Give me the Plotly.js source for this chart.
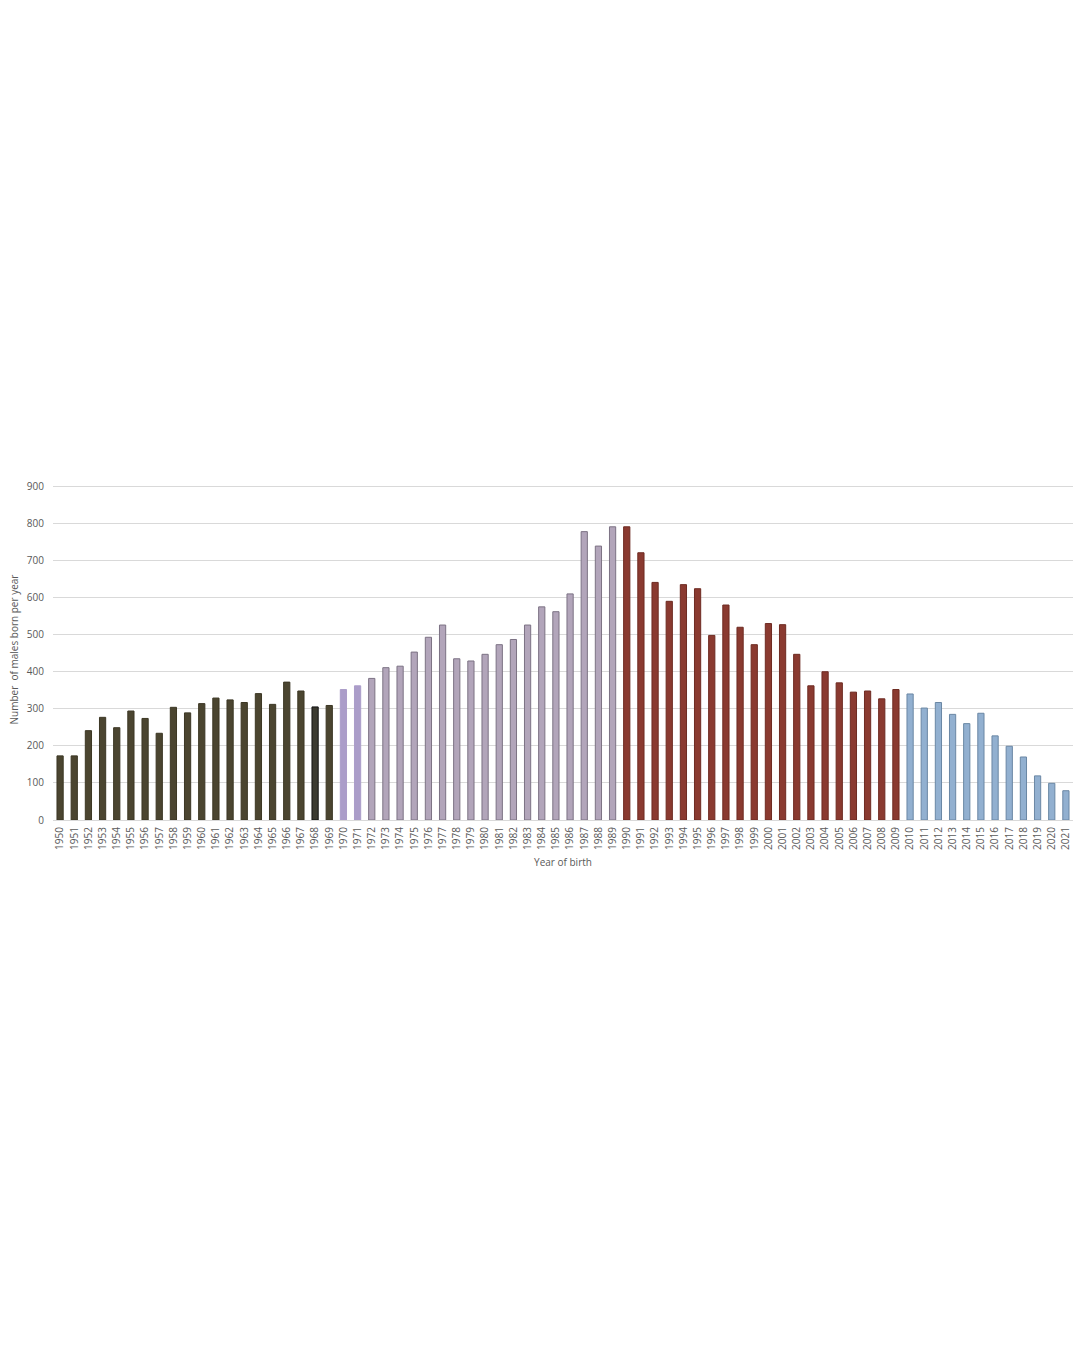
<!DOCTYPE html>
<html>
<head>
<meta charset="utf-8">
<script src="https://cdn.plot.ly/plotly-3.0.1.min.js"></script>
<style>
  html, body { margin: 0; padding: 0; background: #ffffff; }
  #chart { width: 1080px; height: 1350px; }
</style>
</head>
<body>
<div id="chart"></div>
<script>
const years = [
  1950,1951,1952,1953,1954,1955,1956,1957,1958,1959,
  1960,1961,1962,1963,1964,1965,1966,1967,1968,1969,
  1970,1971,1972,1973,1974,1975,1976,1977,1978,1979,
  1980,1981,1982,1983,1984,1985,1986,1987,1988,1989,
  1990,1991,1992,1993,1994,1995,1996,1997,1998,1999,
  2000,2001,2002,2003,2004,2005,2006,2007,2008,2009,
  2010,2011,2012,2013,2014,2015,2016,2017,2018,2019,
  2020,2021
];
const malesBorn = [
  173,173,241,277,249,294,274,234,304,289,
  314,329,324,317,341,312,372,348,305,309,
  352,362,382,411,415,453,493,526,435,429,
  447,473,487,526,575,562,610,778,739,791,
  791,721,641,590,635,624,498,580,520,473,
  530,527,447,362,400,370,345,348,327,352,
  340,302,317,285,260,288,227,199,170,119,
  99,79
];
const yTicks = [0,100,200,300,400,500,600,700,800,900];

function fillFor(y) {
  if (y === 1968) return '#3b3a30';
  if (y < 1970) return '#4b4530';
  if (y < 1972) return '#ab9dc9';
  if (y < 1990) return '#b2a5ba';
  if (y < 2010) return '#8a3a30';
  return '#92b0d0';
}
function lineFor(y) {
  if (y === 1968) return '#111111';
  if (y < 1970) return '#3c3724';
  if (y < 1972) return '#ab9dc9';
  if (y < 1990) return '#7c7284';
  if (y < 2010) return '#6e2b22';
  return '#6a87a4';
}

const labels = years.map(String);

const trace = {
  type: 'bar',
  x: labels,
  y: malesBorn,
  marker: {
    color: years.map(fillFor),
    line: { color: years.map(lineFor), width: 1 }
  },
  hoverinfo: 'x+y'
};

const layout = {
  width: 1080,
  height: 1350,
  paper_bgcolor: '#ffffff',
  plot_bgcolor: '#ffffff',
  margin: { l: 53, r: 7, t: 479, b: 530 },
  bargap: 0.56,
  showlegend: false,
  font: { family: 'Open Sans, sans-serif', color: '#595959', size: 10 },
  xaxis: {
    type: 'category',
    tickangle: -90,
    tickfont: { size: 10, color: '#595959' },
    showgrid: false,
    showline: true,
    linecolor: '#d9d9d9',
    linewidth: 1,
    ticks: '',
    ticklen: 0,
    ticklabelstandoff: 2,
    title: { text: 'Year of birth', font: { size: 10, color: '#595959' }, standoff: 10 }
  },
  yaxis: {
    range: [0, 920],
    tickvals: yTicks,
    ticktext: yTicks.map(String),
    tickfont: { size: 10, color: '#595959' },
    showgrid: true,
    gridcolor: '#d9d9d9',
    gridwidth: 1,
    zeroline: false,
    showline: false,
    ticks: '',
    ticklabelstandoff: 8,
    title: { text: 'Number  of males born per year', font: { size: 10, color: '#595959' }, standoff: 6 }
  }
};

Plotly.newPlot('chart', [trace], layout, { displayModeBar: false, staticPlot: true });
</script>
</body>
</html>
